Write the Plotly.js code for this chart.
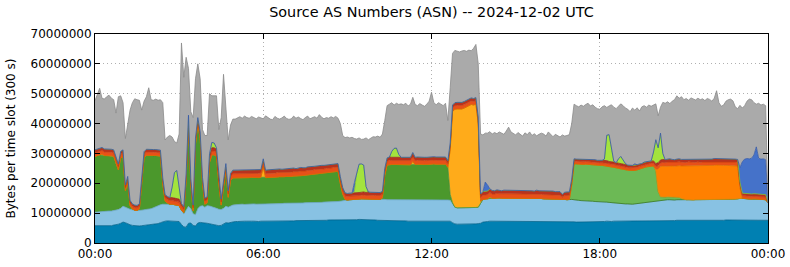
<!DOCTYPE html>
<html>
<head>
<meta charset="utf-8">
<script src="https://cdn.plot.ly/plotly-3.0.1.min.js"></script>
<style>
  html, body { margin: 0; padding: 0; background: #ffffff; }
  #chart { width: 790px; height: 267px; }
</style>
</head>
<body>
<div id="chart"></div>
<script>
// Values in millions of bytes per 300 s slot, one row per hour (12 five-minute slots), plus the final 24:00 slot.
const teal = [
5.8,5.8,5.7,5.7,5.8,5.8,5.9,5.8,6.0,6.1,6.3,6.6,
7.0,6.8,6.4,6.1,5.9,5.8,5.8,5.7,5.8,5.9,6.0,6.0,
6.1,6.2,6.3,6.5,6.8,7.1,7.3,7.4,7.4,7.3,7.3,7.3,
7.2,6.2,5.4,5.3,6.6,6.7,5.9,5.7,6.7,6.9,6.9,6.7,
6.6,6.4,6.2,6.0,5.8,5.8,5.9,6.3,6.8,6.7,6.9,7.0,
7.2,7.2,7.3,7.2,7.3,7.3,7.2,7.3,7.3,7.2,7.2,7.3,
7.3,7.3,7.2,7.2,7.3,7.4,7.4,7.3,7.3,7.4,7.4,7.3,
7.4,7.4,7.5,7.5,7.4,7.4,7.5,7.5,7.5,7.5,7.5,7.6,
7.6,7.5,7.6,7.6,7.7,7.7,7.6,7.7,7.7,7.7,7.6,7.7,
7.8,7.8,7.7,7.8,7.8,7.9,7.9,7.8,7.8,7.8,7.7,7.7,
7.7,7.6,7.6,7.5,7.5,7.5,7.4,7.4,7.4,7.5,7.5,7.4,
7.4,7.4,7.3,7.3,7.4,7.3,7.3,7.4,7.4,7.3,7.3,7.4,
7.4,7.5,7.5,7.4,7.3,7.3,7.4,7.5,7.3,6.8,6.4,6.3,
6.3,6.2,6.2,6.3,6.3,6.3,6.3,6.4,6.5,6.6,7.0,7.2,
7.2,7.3,7.3,7.3,7.2,7.3,7.3,7.3,7.2,7.3,7.2,7.3,
7.2,7.2,7.3,7.2,7.2,7.2,7.3,7.3,7.2,7.2,7.2,7.3,
7.3,7.2,7.2,7.2,7.3,7.3,7.2,7.2,7.2,7.1,7.1,7.1,
7.1,7.1,7.0,7.0,7.0,7.1,7.1,7.1,7.1,7.2,7.1,7.1,
7.2,7.2,7.2,7.3,7.2,7.2,7.3,7.3,7.3,7.3,7.4,7.4,
7.4,7.3,7.3,7.4,7.4,7.3,7.3,7.4,7.4,7.5,7.5,7.5,
7.5,7.4,7.4,7.5,7.5,7.4,7.4,7.5,7.5,7.6,7.6,7.5,
7.5,7.5,7.4,7.4,7.5,7.5,7.5,7.6,7.6,7.5,7.5,7.5,
7.6,7.6,7.5,7.5,7.6,7.6,7.7,7.7,7.6,7.6,7.7,7.7,
7.8,7.8,7.7,7.7,7.8,7.8,7.8,7.7,7.7,7.8,7.8,7.8,
7.6];

const lightBlue = [
4.5,4.6,4.8,4.8,4.8,4.8,4.8,4.9,4.8,4.9,4.9,5.0,
5.3,5.2,5.2,5.2,5.2,5.2,5.1,5.2,5.2,5.2,5.2,5.3,
5.4,5.6,5.9,6.1,6.0,5.9,5.7,5.7,5.6,5.7,5.6,5.5,
5.3,4.8,4.3,5.7,5.7,4.8,3.9,3.8,4.8,5.4,5.6,5.3,
5.9,6.0,6.0,6.0,5.8,5.5,5.3,5.3,5.5,5.3,5.5,5.7,
5.6,5.7,5.7,5.8,5.6,5.7,5.9,5.7,5.8,5.8,5.8,5.8,
5.8,5.8,5.8,5.9,5.9,5.8,5.7,5.9,5.9,5.9,5.9,5.9,
5.9,5.9,5.9,5.8,6.0,6.0,6.0,6.0,5.9,6.0,6.0,6.0,
6.0,6.1,6.1,6.1,6.1,6.1,6.1,6.1,6.2,6.3,6.6,6.6,
6.6,6.7,6.8,6.8,6.8,6.8,6.9,7.0,6.9,7.0,7.1,7.0,
7.0,7.1,7.0,7.1,7.1,7.0,7.1,7.0,7.1,7.0,7.1,7.1,
7.2,7.1,7.2,7.3,7.2,7.2,7.2,7.2,7.2,7.2,7.2,7.2,
7.2,7.1,7.0,7.1,7.2,7.3,7.1,6.9,7.0,6.2,5.6,5.5,
5.5,5.5,5.5,5.5,5.5,5.5,5.6,5.5,5.5,6.9,7.6,7.6,
7.6,7.6,7.7,7.7,7.9,7.8,7.7,7.7,7.9,7.8,7.8,7.8,
7.9,7.8,7.6,7.7,7.8,7.8,7.7,7.6,7.7,7.8,7.7,7.6,
7.5,7.6,7.5,7.5,7.5,7.4,7.5,7.4,7.4,7.5,7.4,7.5,
7.5,7.4,7.5,7.3,7.2,7.1,7.0,6.9,6.9,6.8,6.8,6.8,
6.6,6.6,6.5,6.4,6.4,6.3,6.2,6.1,6.0,6.0,5.8,5.7,
5.7,5.7,5.7,5.7,5.8,6.0,6.1,6.2,6.3,6.3,6.5,6.6,
6.7,6.9,6.9,6.9,6.9,7.1,7.1,6.9,6.9,6.9,6.9,6.9,
6.9,7.0,7.1,7.0,6.9,7.0,7.0,7.0,7.0,7.0,7.0,7.0,
7.0,7.0,7.0,7.0,7.0,7.0,6.9,6.8,7.0,7.1,7.0,7.1,
7.2,7.2,7.2,7.1,6.9,6.9,7.0,7.0,7.0,6.8,6.8,6.7,
5.9];

const darkGreen = [
18.7,18.9,19.0,18.9,18.7,18.7,18.5,18.5,18.2,15.5,13.3,16.9,
16.7,5.5,8.7,1.2,0.3,0,0,0.5,10.5,17.5,18.2,18.0,
17.8,17.5,17.1,16.7,16.3,6.8,1.0,0.3,0,0,0,0,
0,0,0.5,10.0,27.5,8.0,1.0,23.5,28.3,22.7,7.5,1.0,
1.0,14.5,17.3,17.5,17.4,8.5,1.5,7.0,11.9,3.3,8.5,9.1,
9.0,9.0,8.7,8.8,9.0,8.8,8.8,9.0,8.8,8.8,8.9,8.9,
8.9,8.8,8.9,8.9,8.9,8.8,9.0,9.0,8.9,8.9,9.0,9.0,
9.0,9.1,9.0,9.2,9.2,9.2,9.2,9.3,9.5,9.5,9.6,9.6,
9.7,9.8,9.7,9.8,9.8,9.9,10.1,10.1,10.1,5.8,2.2,0.3,
0,0,0,0,0,0,0,0,0,0,0,0,
0,0,0,0.5,8.0,11.6,11.8,11.9,11.8,11.8,11.7,11.8,
11.7,11.8,11.8,11.6,11.7,11.8,11.9,11.7,11.7,11.8,11.8,11.8,
11.8,11.9,11.9,11.9,11.9,11.8,11.9,11.0,2.0,0.5,0,0,
0,0,0,0,0,0,0,0,0,0,0,0,
0,0,0,0,0,0,0,0,0,0,0,0,
0,0,0,0,0,0,0,0,0,0,0,0,
0,0,0,0,0,0,0,0,0,0,0,0,
0,0,0,0,0,0,0,0,0,0,0,0,
0,0,0,0,0,0,0,0,0,0,0,0,
0,0,0,0,0,0,0,0,0,0,0,0,
0,0,0,0,0,0,0,0,0,0,0,0,
0,0,0,0,0,0,0,0,0,0,0,0,
0,0,0,0,0,0,0,0,0,0,0,0,
0,0,0,0,0,0,0,0,0,0,0,0,
0];

const lightGreen = [
0,0,0,0,0,0,0,0,0,0,0,0,
0,0,0,0,0,0,0,0,0,0,0,0,
0,0,0,0,0,0,0,0,0,0,0,0,
0,0,0,0,0,0,0,0,0,0,0,0,
0,0,0,0,0,0,0,0,0,0,0,0,
0,0,0,0,0,0,0,0,0,0,0,0,
0,0,0,0,0,0,0,0,0,0,0,0,
0,0,0,0,0,0,0,0,0,0,0,0,
0,0,0,0,0,0,0,0,0,0,0,0,
0,0,0,0,0,0,0,0,0,0,0,0,
0,0,0,0,0,0,0,0,0,0,0,0,
0,0,0,0,0,0,0,0,0,0,0,0,
0,0,0,0,0,0,0,0,0,0,0,0,
0,0,0,0,0,0,0,0,0,0,0,0,
0,0,0,0,0,0,0,0,0,0,0,0,
0,0,0,0,0,0,0,0,0,0,0,0,
0,0,0,0,0,0,0,0,0,0,0,0,
5.0,12.0,12.0,12.1,12.2,12.1,12.3,12.3,12.3,12.2,12.3,12.2,
12.2,12.2,12.2,12.1,12.1,12.1,11.9,11.8,11.7,11.5,11.5,11.5,
11.3,11.3,11.2,11.2,11.3,11.5,11.6,11.7,11.8,11.8,11.8,11.7,
10.0,3.0,1.2,1.0,1.0,1.0,1.0,0.9,1.0,0.9,0.8,0.5,
0.2,0,0,0,0,0,0,0,0,0,0,0,
0,0,0,0,0,0,0,0,0,0,0,0,
0,0,0,0,0,0,0,0,0,0,0,0,
0];

const amber = [
0,0,0,0.4,0,0,0,0,0,0,0,0,
0,0,0,0,0,0,0,0,0,0,0,0,
0,0,0,0,0,0,0,0,0,0,0,0,
0,0,0,0,0,0,0,0,0,0,0,0,
0,0,0,0,0,0,0,0,0,0,0,0,
0,0,0,0,0,0,0,0,0,0,0,0,
3.5,0,0,0,0,0,0,0,0,0,0,0,
0,0,0,0,0,0,0,0,0,0,0,0,
0,0,0,0,0,0,0,0,0,0,0,0,
0,0,0,0,0,0,0,0,0,0,0,0,
0,0,0,0,0,0,0,0,0,0,0,0,
0,0,0,0,1.0,0,0,0,0,0,0,0,
0,0,0,0,0,0,0,0,15.0,30.5,32.8,33.1,
33.1,33.2,33.5,33.8,34.2,34.6,34.3,34.6,28.0,0.5,0,0,
0,0.5,0,0,0,0,0,0,0,0,0,0,
0,0,0,0,0,0,0,0,0,0,0,0,
0,0,0,0,0,0,0,0,0,0,0,0,
0,0,0,0,0,0,0,0,0,0,0,0,
0,0,0,0,0,0,0,0,0,0,0,0,
0,0,0,0,0,0,0,0,0,0,0,0,
0,0,0,0,0,0,0,0,0,0,0,0,
0,0,0,0,0,0,0,0,0,0,0,0,
0,0,0,0,0,0,0,0,0,0,0,0,
0,0,0,0,0,0,0,0,0,0,0,0,
0];

const darkOrange = [
0,0,0,0,0,0,0,0,0,0,0,0,
0,0,0,0,0,0,0,0,0,0,0,0,
0,0,0,0,0,0,0,0,0,0,0,0,
0,0,0,0,0,0,0,0,0,0,0,0,
0,0,0,0,0,0,0,0,0,0,0,0,
0,0,0,0,0,0,0,0,0,0,0,0,
0,0,0,0,0,0,0,0,0,0,0,0,
0,0,0,0,0,0,0,0,0,0,0,0,
0,0,0,0,0,0,0,0,0,0,0,0,
0,0,0,0,0,0,0,0,0,0,0,0,
0,0,0,0,0,0,0,0,0,0,0,0,
0,0,0,0,0,0,0,0,0,0,0,0,
0,0,0,0,0,0,0,0,0,0,0,0,
0,0,0,0,0,0,0,0,0,0,0,0,
0,0,0,0,0,0,0,0,0,0,0,0,
0,0,0,0,0,0,0,0,0,0,0,0,
0,0,0,0,0,0,0,0,0,0,0,0,
0,0,0,0,0,0,0,0,0,0,0,0,
0,0,0,0,0,0,0,0,0,0,0,0,
0,0,0,0,0,0,0,0,0,0,0,0,
0.5,7.5,10.1,10.4,10.3,10.3,10.4,10.5,10.3,10.5,10.6,10.9,
11.2,11.3,11.4,11.5,11.4,11.3,11.4,11.2,11.3,11.4,11.5,11.4,
11.3,11.4,11.6,11.5,11.3,11.4,11.4,11.5,11.4,11.3,11.2,11.0,
3.5,0,0,0,0,0,0,0,0,0,0,0,
0];

const redOrange = [
1.2,1.2,1.3,1.2,1.2,1.2,1.1,1.2,1.2,1.2,1.1,1.2,
1.2,1.1,1.1,1.0,0.9,0.9,0.9,0.9,1.1,1.1,1.1,1.1,
1.1,1.1,1.1,1.1,1.1,1.1,1.2,1.2,1.2,1.2,1.2,1.2,
1.2,1.2,1.1,1.1,1.2,1.1,1.0,1.1,1.2,1.2,1.1,1.1,
1.1,1.2,1.3,1.3,1.3,1.2,1.1,1.2,1.3,1.2,1.3,1.4,
1.4,1.4,1.5,1.4,1.4,1.5,1.4,1.4,1.5,1.4,1.4,1.5,
1.5,1.4,1.4,1.5,1.4,1.4,1.5,1.4,1.4,1.5,1.4,1.4,
1.4,1.5,1.4,1.4,1.5,1.4,1.4,1.5,1.4,1.4,1.5,1.4,
1.5,1.4,1.4,1.5,1.4,1.4,1.5,1.4,1.4,1.3,1.2,1.2,
1.2,1.2,1.2,1.3,1.2,1.2,1.2,1.3,1.2,1.2,1.2,1.3,
1.2,1.2,1.3,1.2,1.3,1.3,1.4,1.3,1.3,1.4,1.3,1.3,
1.3,1.3,1.3,1.4,1.5,1.3,1.3,1.3,1.4,1.3,1.3,1.3,
1.3,1.3,1.3,1.3,1.3,1.3,1.3,1.2,1.2,1.2,1.2,1.2,
1.2,1.2,1.2,1.2,1.2,1.2,1.2,1.2,1.2,1.3,1.4,1.4,
1.4,1.5,1.4,1.4,1.5,1.4,1.4,1.5,1.4,1.4,1.5,1.4,
1.4,1.4,1.5,1.4,1.4,1.5,1.4,1.4,1.4,1.5,1.4,1.4,
1.4,1.4,1.4,1.5,1.4,1.4,1.4,1.4,0.8,1.3,1.4,1.4,
1.0,0.9,0.9,0.9,0.9,0.9,0.9,0.9,0.9,0.9,0.9,0.9,
0.9,0.9,0.9,1.0,0.9,0.9,0.9,0.9,0.9,0.9,1.0,0.9,
0.9,0.9,1.0,0.9,0.9,0.9,0.9,1.0,0.9,0.9,0.9,0.9,
1.0,1.1,1.2,1.2,1.2,1.3,1.2,1.2,1.2,1.2,1.3,1.2,
1.2,1.2,1.3,1.2,1.2,1.2,1.3,1.2,1.2,1.2,1.2,1.3,
1.2,1.3,1.2,1.2,1.2,1.2,1.3,1.2,1.2,1.2,1.2,1.2,
1.0,0.9,0.9,0.9,0.9,0.9,0.9,0.9,0.9,0.9,0.9,0.9,
0];

const darkRed = [
1.0,1.0,1.1,1.0,1.0,1.0,1.0,1.0,1.0,1.0,0.9,1.0,
1.0,0.9,0.9,0.8,0.8,0.8,0.8,0.8,0.9,0.9,0.9,0.9,
0.9,0.9,0.9,0.9,0.9,0.9,1.0,1.0,1.0,1.0,1.0,1.0,
1.0,1.0,0.9,1.0,1.0,0.9,0.9,1.0,1.0,1.0,0.9,0.9,
0.9,1.0,1.1,1.1,1.1,1.0,0.9,1.0,1.1,1.0,1.1,1.2,
1.2,1.1,1.2,1.2,1.1,1.2,1.2,1.1,1.2,1.2,1.2,1.1,
1.2,1.1,1.2,1.1,1.2,1.2,1.1,1.2,1.2,1.1,1.2,1.2,
1.2,1.2,1.1,1.2,1.2,1.2,1.1,1.2,1.2,1.2,1.1,1.2,
1.2,1.2,1.2,1.1,1.2,1.2,1.1,1.2,1.2,1.1,1.0,1.0,
1.0,1.0,1.0,1.0,1.1,1.0,1.0,1.0,1.0,1.1,1.0,1.0,
1.0,1.0,1.0,1.0,1.1,1.1,1.1,1.1,1.1,1.1,1.1,1.1,
1.1,1.1,1.1,1.1,1.5,1.1,1.1,1.1,1.1,1.1,1.1,1.1,
1.1,1.1,1.1,1.1,1.1,1.1,1.1,1.0,1.0,1.0,1.0,1.0,
1.0,1.0,1.0,1.0,1.0,1.0,1.0,1.0,1.0,1.1,1.2,1.2,
1.2,1.2,1.2,1.1,1.2,1.2,1.1,1.2,1.2,1.2,1.1,1.2,
1.2,1.1,1.2,1.2,1.2,1.1,1.2,1.2,1.1,1.2,1.2,1.2,
1.2,1.1,1.2,1.2,1.2,1.1,1.2,1.2,0.9,1.1,1.2,1.1,
0.8,0.8,0.7,0.8,0.8,0.8,0.7,0.8,0.8,0.8,0.8,0.7,
0.8,0.8,0.8,0.8,0.7,0.8,0.8,0.8,0.8,0.8,0.8,0.8,
0.8,0.8,0.8,0.8,0.8,0.8,0.7,0.8,0.8,0.8,0.8,0.8,
0.9,1.0,1.0,1.0,1.0,1.0,1.1,1.0,1.0,1.0,1.0,1.0,
1.0,1.0,1.0,1.1,1.0,1.0,1.0,1.0,1.1,1.0,1.0,1.0,
1.0,1.0,1.0,1.0,1.1,1.0,1.0,1.0,1.0,1.0,1.0,1.0,
0.8,0.8,0.8,0.8,0.8,0.8,0.8,0.8,0.8,0.8,0.8,0.8,
0];

const yellowGreen = [
0,0,0,0,0,0,0,0,0,0,0,0,
0,0,0,0,0,0,0,0,0,0,0,0,
0,0,0,0,0,0,0,0,0,3.5,8.5,9.3,
3.5,0,0,0,0,0,0,0,0,0,0,0,
0,0.8,1.8,1.6,0.5,0,0,0,0,0,0,0,
0,0,0,0,0,0,0,0,0,0,0,0,
0,0,0,0,0,0,0,0,0,0,0,0,
0,0,0,0,0,0,0,0,0,0,0,0,
0,0,0,0,0,0,0,0,0,0,0,0,
0,0,0,0.3,6.5,9.5,9.5,9.0,2.0,0,0,0,
0,0,0,0,0,0,0,2.0,3.0,3.0,1.0,0,
0,0,0,0,0,0,0,0,0,0,0,0,
0,0,0,0,0,0,0,0,0,0,0,0,
0,0,0,0,0,0,0,0,0,0,0,0,
0,0,0,0,0,0,0,0,0,0,0,0,
0,0,0,0,0,0,0,0,0,0,0,0,
0,0,0,0,0,0,0,0,0,0,0,0,
0,0,0,0,0,0,0,0,0,0,0,0,
0,0,0.5,8.5,9.0,4.0,0.3,0,1.5,2.5,1.5,0.3,
0,0,0,0,0,0,0,0,0,0,0,3.0,
8.0,5.0,9.0,2.0,0,0,0,0,0,0,0,0,
0,0,0,0,0,0,0,0,0,0,0,0,
0,0,0,0,0,0,0,0,0,0,0,0,
0,0,0,0,0,0,0,0,0,0,0,0,
0];

const blue = [
0,0,0,0,0,0,0,0,0,0,0,0,
0,0,0,0,0,0,0,0,0,0,0,0,
0,0,0,0,0,0,0,0,0,0,0,0,
0,0,0,0,0.8,0,0,0,0,0,0,0,
0,0,0,0,0,0,0,0,0,0,0,0,
0,0,0,0,0,0,0,0,0,0,0,0,
0,0,0,0,0,0,0,0,0,0,0,0,
0,0,0,0,0,0,0,0,0,0,0,0,
0,0,0,0,0,0,0,0,0,0,0,0,
0,0,0,3.0,0,0,0,0,0,0,0,0,
0,0,0,0,0,0,0,0,0,0,0,0,
0,0,0,0,0,0,0,0,0,0,0,0,
0,0,0,0,0,0,0,0,0,0,0,0,
0,0,0,0,0,0,0,0,0,0,0,3.0,
2.0,0,0,0,0,0,0,0,0,0,0,0,
0,0,0,0,0,0,0,0,0,0,0,0,
0,0,0,0,0,0,0,0,0,0,0,0,
0,0,0,0,0,0,0,0,0,0,0,0,
0,0,0,0,0,0,0,0,0,0,0,0,
0,0,0,0.5,0,0,0,0,0,0,0,0,
0,0,0,0,0,0,0,0,0,0,0,0,
0,0,0,0,0,0,0,0,0,0,0,0,
0,0,0,0,0,0,0,0,0,0,0,0,
5.0,10.5,11.5,11.8,11.8,12.0,13.0,15.8,12.0,11.8,11.9,11.7,
0];

const gray = [
16.5,18.0,19.9,16.5,16.7,17.5,18.2,17.1,16.8,14.8,22.5,18.6,
15.8,15.5,17.7,30.2,33.9,35.6,35.4,34.7,21.0,16.9,17.6,20.7,
16.7,16.5,16.9,16.5,16.9,25.2,18.3,19.9,20.8,16.8,10.4,9.2,
18.3,53.8,43.3,39.1,15.7,22.5,29.3,19.9,18.0,17.8,16.0,21.0,
20.5,20.1,15.6,15.8,17.4,16.0,27.3,35.7,18.4,17.0,16.2,17.1,
17.1,17.6,17.9,17.4,18.1,17.5,17.3,17.9,17.5,17.2,17.7,17.4,
13.4,18.2,17.5,16.9,16.6,17.8,17.1,16.7,17.2,17.7,16.8,16.6,
16.7,17.4,16.9,17.1,16.4,16.1,16.8,17.0,16.1,16.3,16.6,16.0,
17.0,16.1,15.6,15.9,15.6,16.0,15.5,15.9,15.2,17.8,17.4,18.5,
18.9,18.5,18.7,14.8,11.4,8.8,8.2,8.7,16.3,17.5,18.0,18.6,
18.6,18.9,18.5,19.2,16.0,17.5,17.7,16.3,14.5,15.0,16.7,17.9,
17.6,18.1,17.2,17.8,18.5,17.7,17.2,18.0,17.4,17.1,17.8,18.7,
21.7,18.1,17.5,18.2,17.7,17.2,18.0,13.4,18.5,17.3,17.5,17.2,
16.9,17.2,17.1,16.4,16.4,15.8,16.8,17.8,17.8,20.1,19.0,16.4,
17.4,19.2,18.9,19.5,18.8,19.5,19.4,18.7,19.8,21.1,19.6,19.0,
18.5,19.5,18.9,18.3,19.3,18.7,19.6,18.5,19.2,18.2,18.9,19.3,
19.1,18.5,19.9,18.9,18.2,19.2,18.7,18.3,19.9,18.8,18.9,19.2,
18.6,18.3,17.9,17.5,18.1,17.8,18.4,18.8,17.9,18.4,17.6,17.3,
17.1,17.9,17.9,9.3,9.6,15.0,18.1,18.1,17.6,17.6,18.0,18.6,
18.7,18.0,19.2,18.0,19.1,17.7,19.0,18.9,18.3,18.9,18.3,15.8,
12.0,10.7,8.7,17.1,18.9,19.2,18.5,19.5,20.1,21.2,20.3,21.0,
20.0,20.4,19.6,20.4,20.2,19.9,20.3,20.0,20.1,19.6,20.2,19.9,
19.4,20.2,22.7,18.8,17.6,18.0,19.2,19.8,20.0,19.4,17.5,17.0,
20.8,18.0,17.9,19.2,20.0,19.6,17.5,14.3,18.4,18.1,18.3,18.1,
0];

const xTickLabels = ['00:00', '06:00', '12:00', '18:00', '00:00'];
const yTickValues = [0, 10000000, 20000000, 30000000, 40000000, 50000000, 60000000, 70000000];

// slot timestamps (300 s slots over the day)
const pad = n => String(n).padStart(2, '0');
const times = teal.map((_, i) => {
  const m = i * 5;
  const day = m >= 1440 ? '2024-12-03' : '2024-12-02';
  const mm = m % 1440;
  return day + ' ' + pad(Math.floor(mm / 60)) + ':' + pad(mm % 60);
});
const xTickVals = ['2024-12-02 00:00', '2024-12-02 06:00', '2024-12-02 12:00', '2024-12-02 18:00', '2024-12-03 00:00'];

const layers = [
  { y: teal,        fill: '#0080b2', edge: '#00628a' },
  { y: lightBlue,   fill: '#88c2e3', edge: '#6aa6c8' },
  { y: darkGreen,   fill: '#4b982c', edge: '#3a7a22' },
  { y: lightGreen,  fill: '#6cb955', edge: '#559a42' },
  { y: amber,       fill: '#ffab1a', edge: '#d98c0a' },
  { y: darkOrange,  fill: '#ff8000', edge: '#d86a00' },
  { y: redOrange,   fill: '#e85019', edge: '#c43e10' },
  { y: darkRed,     fill: '#b8321f', edge: '#932618' },
  { y: yellowGreen, fill: '#a3e33e', edge: '#86c02c' },
  { y: blue,        fill: '#4572c9', edge: '#3358a6' },
  { y: gray,        fill: '#aaaaaa', edge: '#8a8a8a' }
];

const traces = layers.map(l => ({
  type: 'scatter',
  mode: 'lines',
  x: times,
  y: l.y.map(v => v * 1e6),
  stackgroup: 'asn',
  fillcolor: l.fill,
  line: { color: l.edge, width: 0.8, shape: 'linear' },
  hoverinfo: 'skip'
}));

const axisCommon = {
  ticks: 'inside',
  ticklen: 5,
  tickwidth: 1,
  tickcolor: '#000',
  showline: true,
  linecolor: '#000',
  linewidth: 1,
  mirror: 'ticks',
  showgrid: true,
  gridcolor: '#b0b0b0',
  griddash: '1px,3px',
  gridwidth: 1,
  zeroline: false,
  tickfont: { family: 'DejaVu Sans', size: 12, color: '#000' }
};

const layout = {
  width: 790,
  height: 267,
  margin: { l: 95, r: 22, t: 34, b: 24, pad: 0 },
  paper_bgcolor: '#ffffff',
  plot_bgcolor: '#ffffff',
  showlegend: false,
  font: { family: 'DejaVu Sans', size: 12, color: '#000' },
  title: {
    text: 'Source AS Numbers (ASN) -- 2024-12-02 UTC',
    font: { family: 'DejaVu Sans', size: 14.4, color: '#000' },
    x: 0.5, xref: 'paper', xanchor: 'center',
    y: 1 - 12 / 267, yref: 'container', yanchor: 'middle'
  },
  xaxis: Object.assign({}, axisCommon, {
    type: 'date',
    range: ['2024-12-02 00:00', '2024-12-03 00:00'],
    tickmode: 'array',
    tickvals: xTickVals,
    ticktext: xTickLabels
  }),
  yaxis: Object.assign({}, axisCommon, {
    range: [0, 70000000],
    tickmode: 'array',
    tickvals: yTickValues,
    ticktext: yTickValues.map(v => String(v)),
    title: { text: 'Bytes per time slot (300 s)', standoff: 12, font: { family: 'DejaVu Sans', size: 12, color: '#000' } }
  })
};

Plotly.newPlot('chart', traces, layout, { displayModeBar: false, staticPlot: true });
</script>
</body>
</html>
